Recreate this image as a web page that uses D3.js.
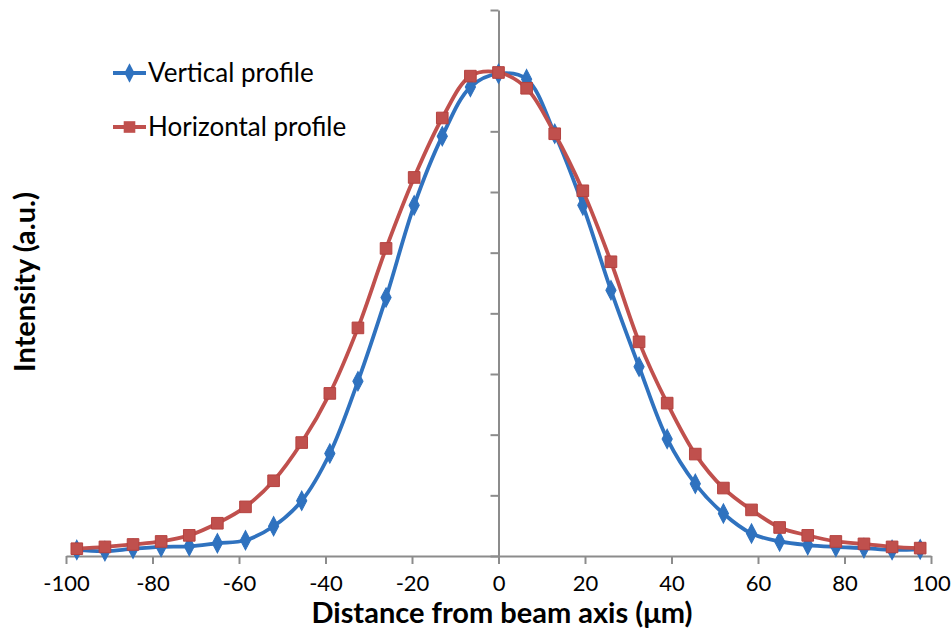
<!DOCTYPE html>
<html>
<head>
<meta charset="utf-8">
<script src="https://cdn.jsdelivr.net/npm/d3@7"></script>
<style>
  body { margin: 0; background: #fff; }
  text { font-family: Lato, "Open Sans", sans-serif; fill: #000; }
</style>
</head>
<body>
<div id="chart"></div>
<script>
// distance from beam axis (um), same grid for both profiles
var distances = [-97.5, -91, -84.5, -78, -71.5, -65, -58.5, -52, -45.5, -39, -32.5, -26, -19.5, -13, -6.5,
  0, 6.5, 13, 19.5, 26, 32.5, 39, 45.5, 52, 58.5, 65, 71.5, 78, 84.5, 91, 97.5];

// intensity (a.u.)
var verticalProfile = [0.10, 0.08, 0.12, 0.15, 0.16, 0.21, 0.26, 0.49, 0.91, 1.69, 2.88, 4.26, 5.78, 6.92, 7.73,
  7.95, 7.86, 6.96, 5.78, 4.38, 3.12, 1.93, 1.19, 0.70, 0.37, 0.24, 0.18, 0.15, 0.13, 0.10, 0.11];
var horizontalProfile = [0.12, 0.15, 0.19, 0.24, 0.34, 0.54, 0.81, 1.24, 1.87, 2.68, 3.76, 5.07, 6.24, 7.22, 7.91,
  7.97, 7.71, 6.96, 6.02, 4.85, 3.53, 2.52, 1.68, 1.12, 0.76, 0.47, 0.34, 0.24, 0.20, 0.15, 0.13];

var xTicks = [-100, -80, -60, -40, -20, 0, 20, 40, 60, 80, 100];
var yTicks = [0, 1, 2, 3, 4, 5, 6, 7, 8, 9];

var svgWidth = 952;
var svgHeight = 641;

var svg = d3.select("#chart")
  .append("svg")
  .attr("width", svgWidth)
  .attr("height", svgHeight);

// scales
var xScale = d3.scaleLinear()
  .domain([-100, 100])
  .range([66, 931]);

var yScale = d3.scaleLinear()
  .domain([0, 9])
  .range([556, 10]);

var axisColor = "#8c8c8c";

// x axis along the bottom
var bottomAxis = d3.axisBottom(xScale)
  .tickValues(xTicks)
  .tickSize(8)
  .tickSizeOuter(0)
  .tickPadding(9)
  .tickFormat(d3.format("d"));

var xAxisGroup = svg.append("g")
  .attr("transform", `translate(0, ${yScale(0)})`)
  .call(bottomAxis);

xAxisGroup.selectAll("path, line")
  .attr("stroke", axisColor)
  .attr("stroke-width", 2);
xAxisGroup.selectAll("text")
  .attr("font-size", "22px")
  .attr("font-family", "Lato, sans-serif")
  .attr("fill", "#000")
  .attr("dy", "0.8em")
  .text(d => d < 0 ? "-" + Math.abs(d) : d);

// y axis sits at x = 0, no labels
var leftAxis = d3.axisLeft(yScale)
  .tickValues(yTicks)
  .tickSize(8)
  .tickSizeOuter(0)
  .tickFormat("");

var yAxisGroup = svg.append("g")
  .attr("transform", `translate(${xScale(0)}, 0)`)
  .call(leftAxis);

yAxisGroup.selectAll("path, line")
  .attr("stroke", axisColor)
  .attr("stroke-width", 2);

// series
var series = [
  { name: "Vertical profile", values: verticalProfile, color: "#2f72bf", marker: d3.symbolDiamond },
  { name: "Horizontal profile", values: horizontalProfile, color: "#c0504d", marker: d3.symbolSquare }
];

var line = d3.line()
  .x((d, i) => xScale(distances[i]))
  .y(d => yScale(d))
  .curve(d3.curveCatmullRom);

function markerSize(s) {
  return s.marker === d3.symbolSquare ? 135 : 90;
}

series.forEach(s => {
  svg.append("path")
    .datum(s.values)
    .attr("fill", "none")
    .attr("stroke", s.color)
    .attr("stroke-width", 3.8)
    .attr("d", line);

  svg.append("g")
    .selectAll("path")
    .data(s.values)
    .enter()
    .append("path")
    .attr("transform", (d, i) => `translate(${xScale(distances[i])}, ${yScale(d)})` +
      (s.marker === d3.symbolDiamond ? " scale(1, 1.1)" : ""))
    .attr("d", d3.symbol().type(s.marker).size(markerSize(s)))
    .attr("fill", s.color)
    .attr("stroke", s.marker === d3.symbolSquare ? "#b5423f" : s.color)
    .attr("stroke-width", 1);
});

// legend
var legend = svg.append("g");
series.forEach((s, i) => {
  var ly = 73 + i * 54;
  legend.append("line")
    .attr("x1", 113)
    .attr("x2", 146)
    .attr("y1", ly)
    .attr("y2", ly)
    .attr("stroke", s.color)
    .attr("stroke-width", 3.8);
  legend.append("path")
    .attr("transform", `translate(129.5, ${ly})` + (s.marker === d3.symbolDiamond ? " scale(1, 1.1)" : ""))
    .attr("d", d3.symbol().type(s.marker).size(markerSize(s)))
    .attr("fill", s.color);
  legend.append("text")
    .attr("x", 148)
    .attr("y", ly + 9)
    .attr("font-size", "26px")
    .text(s.name);
});

// axis titles
svg.append("text")
  .attr("x", 502)
  .attr("y", 623)
  .attr("text-anchor", "middle")
  .attr("font-size", "29px")
  .attr("font-weight", "bold")
  .text("Distance from beam axis (\u03bcm)");

svg.append("text")
  .attr("transform", "translate(35, 282) rotate(-90)")
  .attr("text-anchor", "middle")
  .attr("font-size", "29px")
  .attr("font-weight", "bold")
  .text("Intensity (a.u.)");
</script>
</body>
</html>
